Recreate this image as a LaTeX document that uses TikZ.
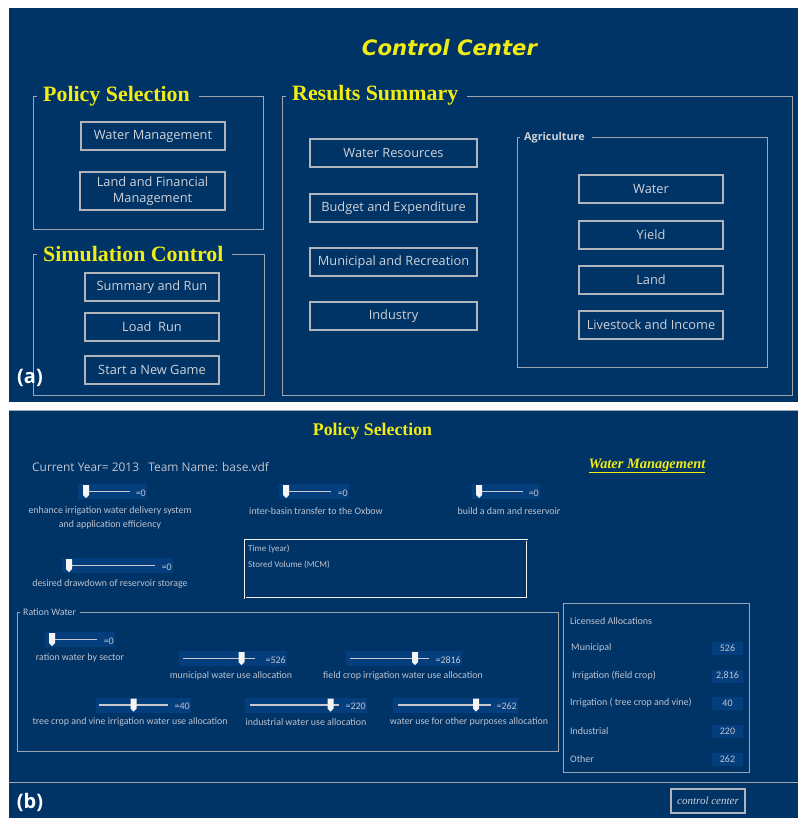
\documentclass[tikz,border=0pt]{standalone}
\usepackage{fontspec}
\setmainfont{Liberation Serif}
\newfontfamily\uifont{Open Sans}
\newfontfamily\smallui{Carlito}
\newfontfamily\headfont{DejaVu Sans}

\definecolor{navy}{RGB}{0,51,102}
\definecolor{navylight}{RGB}{5,62,124}
\definecolor{framegrey}{RGB}{160,166,178}
\definecolor{btnedge}{RGB}{178,180,188}
\definecolor{btntext}{RGB}{208,210,215}
\definecolor{labelgrey}{RGB}{190,196,208}
\definecolor{headyellow}{RGB}{240,236,20}
\definecolor{trackgrey}{RGB}{200,202,208}

\tikzset{
  panel/.style={fill=navy, draw=none},
  frame/.style={draw=framegrey, line width=1pt},
  grptitle/.style={font=\bfseries\fontsize{21.9}{24}\selectfont, text=headyellow, inner sep=0, anchor=west},
  subtitle/.style={font=\uifont\bfseries\fontsize{10.8}{12}\selectfont, text=btntext, inner sep=0, anchor=west},
  btn/.style={draw=btnedge, line width=1.8pt, text=btntext, font=\uifont\fontsize{12.8}{16}\selectfont,
              inner sep=0, align=center, minimum height=28},
  tag/.style={font=\uifont\bfseries\fontsize{20}{22}\selectfont, text=white, inner sep=0},
  sliderbg/.style={fill=navylight, draw=none, inner sep=0, minimum height=15},
  track/.style={draw=trackgrey, line width=1.6pt},
  thumb/.style={fill=white!92!gray},
  sliderval/.style={font=\smallui\fontsize{10}{11}\selectfont, text=labelgrey, inner sep=0},
  slabel/.style={font=\smallui\fontsize{9.9}{14}\selectfont, text=labelgrey, align=center, inner sep=0},
  rowlabel/.style={font=\smallui\fontsize{10}{11}\selectfont, text=labelgrey, inner sep=0, anchor=west},
  valbox/.style={fill=navylight, draw=none, inner sep=0, minimum width=31, minimum height=13,
                 font=\smallui\fontsize{10}{11}\selectfont, text=labelgrey},
}

% name, track-bg left, right, y centre, track left, track right, thumb x, value
\newcommand{\uislider}[8]{%
  \node[sliderbg, minimum width={#3-#2}] (#1) at ({(#2+#3)/2},{#4}) {};
  \draw[track] ({#5},{#4}) -- ({#6},{#4});
  \fill[thumb] ({#7-3},{#4-6.5}) -- ({#7+3},{#4-6.5}) -- ({#7+3},{#4+3.5})
               -- ({#7},{#4+6.5}) -- ({#7-3},{#4+3.5}) -- cycle;
  \node[sliderval, anchor=east] (#1v) at ({#3-1},{#4+1.5}) {#8};
}

\begin{document}
\begin{tikzpicture}[x=1pt,y=-1pt]
\useasboundingbox (0,0) rectangle (798,818);
\fill[white] (0,0) rectangle (798,818);

% ---------------- control centre screen ----------------
\fill[panel] (9,8) rectangle (798,402);

\node[font=\headfont\bfseries\itshape\fontsize{21.2}{24}\selectfont, text=headyellow, inner sep=0]
  (cc) at (449.5,48) {Control Center};

% policy selection group
\draw[frame] (37,97) -- (33,97) -- (33,229) -- (263,229) -- (263,97) -- (199,97);
\node[grptitle] (ps) at (43,96) {Policy Selection};
\node[btn, minimum width=144] (wm) at (153,136) {Water Management};
\node[btn, minimum width=145, minimum height=38] (lfm) at (152.5,191) {Land and Financial\\Management};

% simulation control group
\draw[frame] (37,254) -- (33,254) -- (33,395) -- (264,395) -- (264,254) -- (232,254);
\node[grptitle] (sc) at (43,254) {Simulation Control};
\node[btn, minimum width=134] (sr) at (152,287) {Summary and Run};
\node[btn, minimum width=134] (lr) at (152,327) {Load~ Run};
\node[btn, minimum width=134] (sng) at (152,370) {Start a New Game};

% results summary group
\draw[frame] (286,97) -- (282,97) -- (282,395) -- (792,395) -- (792,97) -- (467,97);
\node[grptitle] (rs) at (292,95) {Results Summary};
\node[btn, minimum width=167] (wres) at (393.5,153) {Water Resources};
\node[btn, minimum width=167] (bexp) at (393.5,208) {Budget and Expenditure};
\node[btn, minimum width=167] (mrec) at (393.5,262) {Municipal and Recreation};
\node[btn, minimum width=167] (indu) at (393.5,316) {Industry};

% agriculture sub-group
\draw[frame] (520,138) -- (517,138) -- (517,367) -- (767,367) -- (767,138) -- (592,138);
\node[subtitle] (agr) at (524,138) {Agriculture};
\node[btn, minimum width=144] (awat) at (651,189) {Water};
\node[btn, minimum width=144] (ayld) at (651,235) {Yield};
\node[btn, minimum width=144] (alnd) at (651,280) {Land};
\node[btn, minimum width=144] (alvs) at (651,325) {Livestock and Income};

\node[tag] (taga) at (30,378) {(a)};

% ---------------- water management screen ----------------
\fill[panel] (9,410) rectangle (798,818);
\draw[draw=framegrey, line width=1pt] (9,410.5) -- (798,410.5);

\node[font=\bfseries\fontsize{17.8}{20}\selectfont, text=headyellow, inner sep=0]
  (ps2) at (372.5,431) {Policy Selection};
\node[font=\uifont\fontsize{11.9}{14}\selectfont, text=labelgrey, inner sep=0, anchor=west]
  (year) at (32,467) {Current Year= 2013 \ \ Team Name: base.vdf};
\node[font=\bfseries\itshape\fontsize{14.4}{16}\selectfont, text=headyellow, inner sep=0]
  (wmhead) at (647,466) {\underline{Water Management}};

% policy sliders
\uislider{s1}{78}{147}{491.5}{86}{130}{86}{=0}
\node[slabel] (l1) at (110,518) {enhance irrigation water delivery system\\and application efficiency};
\uislider{s2}{279}{349}{491.5}{286}{331}{286}{=0}
\node[slabel] (l2) at (316,511) {inter-basin transfer to the Oxbow};
\uislider{s3}{472}{540}{491.5}{479}{523}{479}{=0}
\node[slabel] (l3) at (509,511) {build a dam and reservoir};
\uislider{s4}{62}{173}{565.5}{69}{155}{69}{=0}
\node[slabel] (l4) at (110,584) {desired drawdown of reservoir storage};

% graph area
\draw[draw=white!90!gray, line width=0.6pt, double=navy, double distance=0.8pt] (245,540) rectangle (527,598);
\node[rowlabel, font=\smallui\fontsize{9}{10}\selectfont] (gt) at (248,549) {Time (year)};
\node[rowlabel, font=\smallui\fontsize{9}{10}\selectfont] (gv) at (248,565) {Stored Volume (MCM)};

% ration water group
\draw[frame] (20,612) -- (17,612) -- (17,751) -- (558,751) -- (558,612) -- (80,612);
\node[rowlabel, font=\smallui\fontsize{9.9}{11}\selectfont] (rw) at (23,612) {Ration Water};
\uislider{s5}{45}{115}{639.5}{52}{97}{52}{=0}
\node[slabel] (l5) at (80,658) {ration water by sector};
\uislider{s6}{179}{287}{658.5}{183}{255}{241.5}{=526}
\node[slabel] (l6) at (231,676) {municipal water use allocation};
\uislider{s7}{346}{462}{658.5}{350}{429}{415}{=2816}
\node[slabel] (l7) at (403,676) {field crop irrigation water use allocation};
\uislider{s8}{96}{191}{705}{99}{168}{133.5}{=40}
\node[slabel] (l8) at (130,722) {tree crop and vine irrigation water use allocation};
\uislider{s9}{245}{367}{705}{250}{339}{330.5}{=220}
\node[slabel] (l9) at (306,722) {industrial water use allocation};
\uislider{s10}{393}{518}{705}{398}{491}{476}{=262}
\node[slabel] (l10) at (469,722) {water use for other purposes allocation};

% licensed allocations table
\draw[frame] (563,603) rectangle (749,772);
\node[rowlabel] (lat) at (570,621) {Licensed Allocations};
\node[rowlabel] (r1) at (571,648) {Municipal};
\node[valbox] (v1) at (727.5,648) {526};
\node[rowlabel] (r2) at (572,676) {Irrigation (field crop)};
\node[valbox] (v2) at (727.5,676) {2,816};
\node[rowlabel] (r3) at (570,703) {Irrigation ( tree crop and vine)};
\node[valbox] (v3) at (727.5,703) {40};
\node[rowlabel] (r4) at (570,731) {Industrial};
\node[valbox] (v4) at (727.5,731) {220};
\node[rowlabel] (r5) at (570,759) {Other};
\node[valbox] (v5) at (727.5,759) {262};

% bottom bar
\draw[draw=framegrey, line width=0.8pt] (9,782) -- (798,782);
\node[btn, minimum width=74, minimum height=24, font=\itshape\fontsize{11}{13}\selectfont]
  (ccbtn) at (708,801) {control center};
\node[tag] (tagb) at (30,802) {(b)};
\end{tikzpicture}
\end{document}
